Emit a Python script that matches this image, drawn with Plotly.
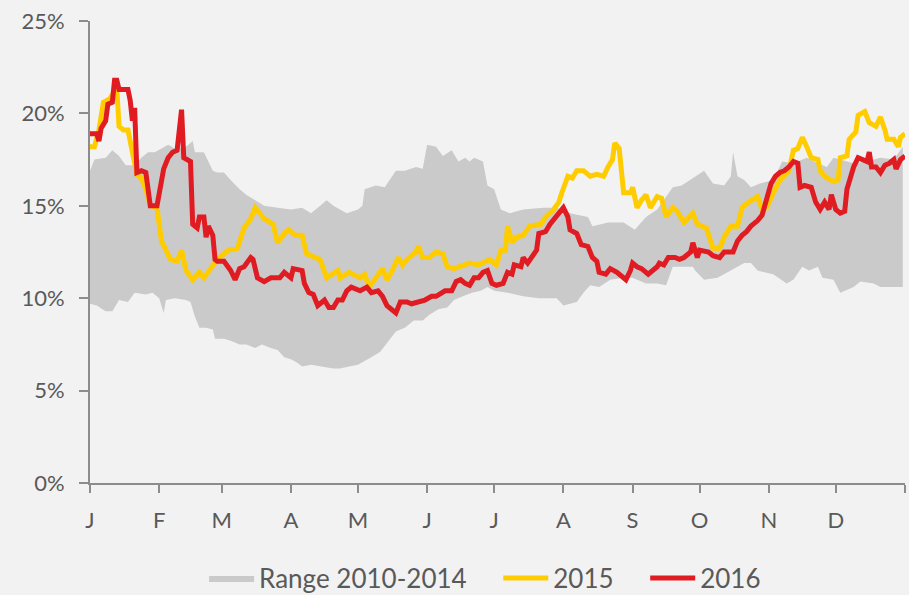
import plotly.graph_objects as go

# ---- data (day of year, % values) ----
month_ticks = [0, 31, 59, 90, 120, 151, 181, 212, 243, 273, 304, 334, 365]
month_labels = ["J", "F", "M", "A", "M", "J", "J", "A", "S", "O", "N", "D", ""]

y15_days = [0, 2, 4, 6, 9, 12, 13, 15, 17, 19, 21, 23, 25, 27, 30, 32, 34, 36, 39, 41, 43, 46, 49, 51, 54,
            57, 62, 66, 69, 72, 74, 78, 82, 84, 87, 89, 92, 95, 97, 99, 103, 106, 111, 112, 116, 121, 123,
            125, 128, 131, 133, 135, 138, 140, 142, 146, 147, 149, 152, 155, 158, 160, 163, 167, 170, 174,
            179, 182, 184, 186, 187, 189, 191, 194, 197, 202, 204, 207, 210, 211, 214, 216, 218, 221, 224,
            227, 230, 232, 234, 235, 237, 239, 242, 243, 245, 247, 249, 251, 254, 256, 258, 261, 263, 266,
            268, 270, 272, 276, 279, 282, 284, 287, 290, 292, 295, 299, 301, 303, 306, 309, 313, 315, 317,
            319, 321, 323, 326, 327, 329, 333, 335, 336, 339, 340, 343, 344, 347, 349, 352, 354, 356, 357,
            360, 362, 363, 365]
y15_vals = [18.2, 18.2, 19.1, 20.6, 20.8, 21.4, 19.3, 19.1, 19.1, 18.0, 16.7, 16.5, 15.9, 15.0, 14.9, 13.1,
            12.6, 12.1, 12.0, 12.6, 11.5, 11.0, 11.4, 11.1, 11.6, 12.1, 12.6, 12.7, 13.8, 14.3, 14.9, 14.3,
            14.0, 13.0, 13.5, 13.7, 13.4, 13.4, 12.4, 12.3, 12.1, 11.1, 11.5, 11.1, 11.4, 11.1, 11.3, 10.6,
            11.1, 11.6, 11.0, 11.4, 12.2, 11.8, 12.1, 12.5, 12.8, 12.2, 12.2, 12.5, 12.4, 11.7, 11.6, 11.8,
            11.9, 11.8, 12.1, 11.8, 12.6, 12.6, 13.9, 13.0, 13.3, 13.4, 13.9, 14.0, 14.4, 14.7, 15.2, 15.6,
            16.6, 16.5, 16.9, 16.9, 16.6, 16.7, 16.6, 17.1, 17.5, 18.4, 18.1, 15.7, 15.7, 16.0, 14.9, 15.3,
            15.6, 14.9, 15.5, 15.4, 14.4, 14.9, 14.7, 14.1, 14.4, 14.6, 14.0, 13.8, 12.7, 12.7, 13.3, 13.9,
            13.9, 14.9, 15.2, 15.5, 14.8, 14.9, 15.7, 16.4, 16.9, 18.0, 18.1, 18.7, 18.2, 17.6, 17.5, 16.9,
            16.6, 16.3, 16.4, 17.6, 17.7, 18.6, 19.0, 19.9, 20.1, 19.5, 19.3, 19.8, 19.1, 18.6, 18.6, 18.2,
            18.7, 18.9]

y16_days = [0, 3, 4, 5, 7, 8, 10, 11, 12, 13, 17, 18, 19, 20, 21, 23, 25, 27, 30, 31, 33, 35, 37, 39, 40,
            41, 42, 45, 46, 48, 49, 51, 52, 53, 55, 56, 57, 60, 63, 65, 67, 69, 72, 73, 75, 78, 81, 85, 87,
            90, 91, 95, 96, 98, 100, 102, 105, 107, 109, 111, 113, 115, 117, 121, 124, 126, 129, 131, 133,
            137, 139, 142, 144, 147, 150, 153, 155, 159, 162, 164, 166, 168, 170, 172, 174, 176, 178, 180,
            182, 185, 187, 189, 190, 193, 194, 196, 198, 200, 201, 204, 206, 209, 212, 214, 215, 218, 220,
            223, 225, 227, 228, 231, 233, 236, 239, 240, 242, 243, 245, 247, 250, 252, 254, 255, 257, 259,
            262, 264, 266, 269, 270, 272, 273, 277, 279, 282, 284, 288, 290, 292, 294, 296, 299, 301, 302,
            304, 305, 307, 309, 311, 313, 315, 317, 318, 320, 323, 325, 327, 329, 331, 332, 334, 336, 338,
            339, 342, 344, 346, 348, 349, 350, 352, 354, 356, 358, 360, 361, 363, 365]
y16_vals = [18.9, 18.9, 18.5, 19.2, 19.6, 20.5, 20.6, 21.8, 21.8, 21.3, 21.3, 20.7, 19.6, 20.3, 16.8, 16.9,
            16.8, 15.0, 15.0, 15.6, 17.0, 17.6, 17.9, 18.0, 19.1, 20.2, 17.6, 17.4, 14.0, 13.8, 14.4, 14.4,
            13.3, 13.9, 13.4, 12.1, 12.0, 12.0, 11.5, 11.0, 11.6, 11.7, 12.2, 12.1, 11.1, 10.9, 11.1, 11.1,
            11.4, 11.1, 11.6, 11.5, 10.8, 10.3, 10.2, 9.6, 9.9, 9.5, 9.5, 9.9, 9.9, 10.4, 10.6, 10.4, 10.6,
            10.3, 10.4, 10.1, 9.6, 9.2, 9.8, 9.8, 9.7, 9.8, 9.9, 10.1, 10.1, 10.4, 10.4, 10.9, 11.0, 10.8,
            10.7, 11.1, 11.1, 11.4, 11.5, 10.8, 10.7, 10.8, 11.4, 11.3, 11.8, 11.7, 12.2, 11.9, 12.2, 12.6,
            13.5, 13.6, 14.0, 14.4, 14.9, 14.4, 13.7, 13.5, 12.9, 12.8, 12.2, 12.0, 11.4, 11.3, 11.6, 11.4,
            11.1, 11.0, 11.5, 11.9, 11.7, 11.6, 11.3, 11.5, 11.7, 11.9, 11.8, 12.2, 12.2, 12.1, 12.2, 12.5,
            13.0, 12.2, 12.6, 12.5, 12.3, 12.2, 12.5, 12.5, 13.1, 13.4, 13.6, 13.9, 14.2, 14.5, 14.9, 15.7,
            16.2, 16.6, 16.8, 16.9, 17.1, 17.4, 17.3, 16.0, 16.1, 16.0, 15.2, 14.8, 15.2, 14.8, 15.6, 14.8,
            14.6, 14.7, 15.9, 17.1, 17.6, 17.5, 17.4, 17.9, 17.1, 17.1, 16.8, 17.2, 17.3, 17.5, 17.0, 17.5,
            17.7]

range_hi_days = [0, 2, 7, 10, 13, 16, 20, 23, 26, 29, 32, 35, 38, 43, 46, 47, 51, 55, 57, 60, 63, 67, 70,
                 75, 78, 84, 90, 95, 99, 102, 106, 109, 115, 120, 122, 123, 128, 132, 137, 141, 146, 149,
                 151, 155, 158, 162, 165, 168, 170, 172, 176, 178, 181, 184, 188, 194, 203, 209, 215, 223,
                 225, 232, 239, 244, 249, 254, 261, 265, 271, 275, 279, 284, 287, 288, 290, 293, 296, 300,
                 306, 310, 315, 321, 326, 330, 333, 339, 342, 348, 354, 360, 364]
range_hi = [16.9, 17.5, 17.6, 18.0, 17.7, 17.2, 17.2, 17.6, 17.9, 17.9, 18.1, 18.3, 18.1, 18.2, 18.5, 17.9,
            17.9, 16.9, 16.8, 16.8, 16.4, 15.9, 15.6, 15.2, 15.0, 14.9, 14.8, 14.9, 14.6, 14.9, 15.3, 15.0,
            14.6, 14.8, 15.0, 15.9, 16.1, 16.0, 16.9, 16.9, 17.1, 17.0, 18.3, 18.2, 17.7, 18.0, 17.4, 17.6,
            17.4, 17.6, 17.4, 16.1, 15.9, 14.8, 14.6, 14.8, 14.9, 14.9, 14.6, 14.4, 13.9, 14.1, 14.1, 13.7,
            14.4, 14.8, 16.0, 16.1, 16.6, 16.9, 16.2, 16.1, 16.6, 17.9, 16.6, 16.4, 16.0, 16.2, 16.4, 17.4,
            17.3, 17.6, 17.3, 17.1, 17.6, 17.4, 17.3, 17.4, 17.6, 17.5, 18.2]

range_lo_days = [0, 3, 7, 10, 13, 17, 20, 25, 28, 31, 33, 34, 38, 43, 45, 47, 49, 52, 55, 56, 60, 63, 67,
                 70, 74, 77, 81, 84, 87, 90, 93, 95, 99, 103, 109, 112, 116, 120, 123, 126, 130, 133, 137,
                 141, 145, 149, 152, 156, 160, 163, 167, 171, 175, 178, 181, 187, 194, 201, 209, 212, 215,
                 218, 221, 224, 228, 233, 239, 243, 249, 254, 258, 261, 270, 271, 275, 281, 287, 293, 296,
                 299, 302, 306, 312, 315, 319, 322, 326, 328, 333, 336, 342, 345, 351, 354, 357, 364]
range_lo = [9.7, 9.6, 9.3, 9.3, 9.9, 9.8, 10.3, 10.2, 10.3, 10.0, 9.2, 9.9, 10.0, 9.9, 9.8, 9.0, 8.4, 8.4,
            8.3, 7.8, 7.8, 7.7, 7.5, 7.5, 7.3, 7.5, 7.3, 7.2, 6.8, 6.7, 6.5, 6.3, 6.4, 6.3, 6.2, 6.2, 6.3,
            6.4, 6.6, 6.8, 7.1, 7.6, 8.2, 8.4, 8.8, 8.8, 9.1, 9.4, 9.5, 9.9, 10.1, 10.3, 10.4, 10.6, 10.4,
            10.3, 10.1, 10.0, 10.0, 9.6, 9.7, 9.8, 10.3, 10.7, 10.6, 11.0, 11.1, 11.1, 10.8, 10.8, 10.7,
            11.7, 11.7, 11.5, 11.0, 11.1, 11.5, 11.9, 11.9, 11.5, 11.4, 11.3, 10.8, 11.0, 11.7, 11.5, 11.7,
            11.1, 11.0, 10.3, 10.6, 10.9, 10.8, 10.6, 10.6, 10.6]

y_ticks = [0, 5, 10, 15, 20, 25]
y_labels = ["0%", "5%", "10%", "15%", "20%", "25%"]

series_names = ["Range 2010-2014", "2015", "2016"]

# ---- styling ----
BG = "#F2F2F2"
TXT = "#595959"
AXIS = "#8C8C8C"
FONT = "Lato, Open Sans, sans-serif"
PAD = "\u00a0" * 4

fig = go.Figure()

band_x = list(range_hi_days) + list(reversed(range_lo_days))
band_y = list(range_hi) + list(reversed(range_lo))
fig.add_trace(go.Scatter(
    x=band_x, y=band_y, fill="toself", fillcolor="#CACACA",
    line=dict(width=0, color="#CACACA"), mode="lines",
    name=series_names[0] + PAD, hoverinfo="skip"))

fig.add_trace(go.Scatter(
    x=y15_days, y=y15_vals, mode="lines", name=series_names[1] + PAD,
    line=dict(color="#FFCC00", width=5)))

fig.add_trace(go.Scatter(
    x=y16_days, y=y16_vals, mode="lines", name=series_names[2],
    line=dict(color="#E01B22", width=5)))

fig.update_layout(
    width=909, height=595,
    margin=dict(l=90, r=4, t=21, b=112, autoexpand=False),
    paper_bgcolor=BG, plot_bgcolor=BG,
    font=dict(family=FONT, color=TXT, size=20),
    showlegend=True,
    legend=dict(orientation="h", x=0.140, xanchor="left", y=-0.206, yanchor="middle",
                font=dict(size=26, color=TXT), bgcolor="rgba(0,0,0,0)",
                itemwidth=45, traceorder="normal"),
)

fig.update_xaxes(
    range=[0, 365], tickmode="array", tickvals=month_ticks, ticktext=month_labels,
    showgrid=False, zeroline=False, showline=True, linecolor=AXIS, linewidth=2,
    ticks="outside", ticklen=8, tickwidth=2, tickcolor=AXIS, automargin=False,
    ticklabelstandoff=9, tickfont=dict(size=22, color=TXT))

fig.update_yaxes(
    range=[0, 25], tickmode="array", tickvals=y_ticks, ticktext=y_labels,
    showgrid=False, zeroline=False, showline=True, linecolor=AXIS, linewidth=2,
    ticks="outside", ticklen=9, tickwidth=2, tickcolor=AXIS, automargin=False,
    ticklabelstandoff=10, tickfont=dict(size=22, color=TXT))

fig.write_html(
    "out.html",
    config={"displayModeBar": False},
    post_script="document.body.style.margin='0';document.body.style.background='#F2F2F2';",
)
